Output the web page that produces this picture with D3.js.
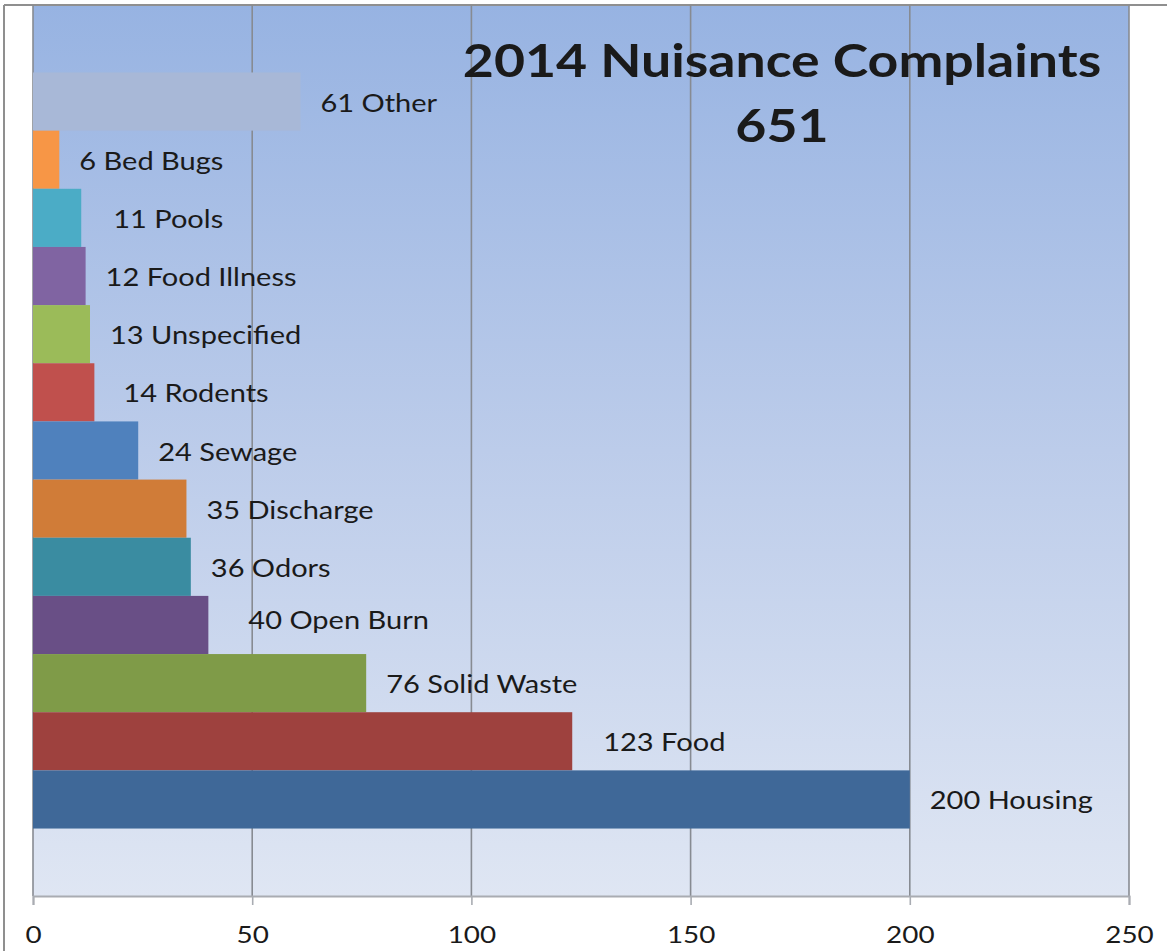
<!DOCTYPE html>
<html>
<head>
<meta charset="utf-8">
<script src="https://cdn.jsdelivr.net/npm/d3@7/dist/d3.min.js"></script>
<style>
  html, body { margin: 0; padding: 0; background: #fff; }
  svg { display: block; }
  text { font-family: Lato, "Open Sans", sans-serif; fill: #1a1a1a; }
</style>
</head>
<body>
<svg id="chart" width="1167" height="951"></svg>
<script>
// ---- data ----
const categories = ["Other", "Bed Bugs", "Pools", "Food Illness", "Unspecified", "Rodents",
  "Sewage", "Discharge", "Odors", "Open Burn", "Solid Waste", "Food", "Housing"];
const complaints = [61, 6, 11, 12, 13, 14, 24, 35, 36, 40, 76, 123, 200];
const barColors = ["#A8B8D7", "#F79646", "#4BACC6", "#8064A2", "#9BBB59", "#C0504D",
  "#4F81BD", "#D07C38", "#3A8CA1", "#694F86", "#7F9B48", "#9E413E", "#3F6898"];
const xTicks = [0, 50, 100, 150, 200, 250];
const titleLines = ["2014 Nuisance Complaints", "651"];

// layout-only label nudges (px), as placed in the original chart
const labelNudge = { "Pools": [12, 0], "Rodents": [9, 0], "Open Burn": [20, -6], "Food": [11, 0] };

// ---- layout ----
const svg = d3.select("#chart");
const plot = { left: 33, right: 1129, top: 5, bottom: 896 };
const STRETCH = 1.16;

const x = d3.scaleLinear().domain([0, 250]).range([plot.left, plot.right]);
const y = d3.scaleBand().domain(categories).range([plot.top, plot.bottom])
  .paddingInner(0).paddingOuter(1.16);

// stretch helper, to mimic the wide rendering of the original text
function stretch(sel, factor) {
  sel.each(function () {
    const len = this.getComputedTextLength();
    d3.select(this).attr("textLength", len * factor).attr("lengthAdjust", "spacingAndGlyphs");
  });
}

// background gradient
const defs = svg.append("defs");
const grad = defs.append("linearGradient").attr("id", "bg")
  .attr("x1", 0).attr("y1", 0).attr("x2", 0).attr("y2", 1);
grad.append("stop").attr("offset", "0%").attr("stop-color", "#97B3E2");
grad.append("stop").attr("offset", "50%").attr("stop-color", "#BCCCEA");
grad.append("stop").attr("offset", "100%").attr("stop-color", "#DFE6F3");

svg.append("rect")
  .attr("x", plot.left).attr("y", plot.top)
  .attr("width", plot.right - plot.left).attr("height", plot.bottom - plot.top)
  .attr("fill", "url(#bg)");

// outer chart border (top and left visible)
svg.append("line").attr("x1", 4).attr("x2", 1167).attr("y1", 5).attr("y2", 5)
  .attr("stroke", "#8F8F8F").attr("stroke-width", 2);
svg.append("line").attr("x1", 4).attr("x2", 4).attr("y1", 5).attr("y2", 951)
  .attr("stroke", "#8F8F8F").attr("stroke-width", 2);

// gridlines
svg.append("g").selectAll("line").data(xTicks).join("line")
  .attr("x1", d => x(d)).attr("x2", d => x(d))
  .attr("y1", plot.top).attr("y2", plot.bottom)
  .attr("stroke", "#878B92").attr("stroke-width", 1.6);

// x axis
const xAxis = d3.axisBottom(x).tickValues(xTicks).tickSize(9).tickPadding(21).tickFormat(d3.format("d"));
const gx = svg.append("g").attr("transform", `translate(0,${plot.bottom})`).call(xAxis);
gx.select(".domain").attr("stroke", "#A9ACB2").attr("stroke-width", 2);
gx.selectAll(".tick line").attr("stroke", "#A9ACB2").attr("stroke-width", 1.6);
gx.selectAll(".tick text")
  .attr("font-family", "Lato, 'Open Sans', sans-serif")
  .attr("font-size", 24).attr("fill", "#1a1a1a")
  .call(stretch, STRETCH);

// bars
const rows = categories.map((c, i) => ({ cat: c, val: complaints[i], color: barColors[i] }));
svg.append("g").selectAll("rect").data(rows).join("rect")
  .attr("x", x(0))
  .attr("y", d => y(d.cat))
  .attr("width", d => x(d.val) - x(0))
  .attr("height", y.bandwidth())
  .attr("fill", d => d.color);

// bar labels
svg.append("g").selectAll("text").data(rows).join("text")
  .attr("x", d => x(d.val) + 20 + (labelNudge[d.cat] ? labelNudge[d.cat][0] : 0))
  .attr("y", d => y(d.cat) + y.bandwidth() / 2 + 10 + (labelNudge[d.cat] ? labelNudge[d.cat][1] : 0))
  .attr("font-size", 25)
  .text(d => `${d.val} ${d.cat}`)
  .call(stretch, STRETCH);

// title
const tx = 782;
svg.append("text").attr("x", tx).attr("y", 77).attr("text-anchor", "middle")
  .attr("font-size", 46).attr("font-weight", 700).attr("fill", "#000")
  .text(titleLines[0]).call(stretch, 1.165);
svg.append("text").attr("x", tx).attr("y", 142).attr("text-anchor", "middle")
  .attr("font-size", 46).attr("font-weight", 700).attr("fill", "#000")
  .text(titleLines[1]).call(stretch, 1.165);
</script>
</body>
</html>
